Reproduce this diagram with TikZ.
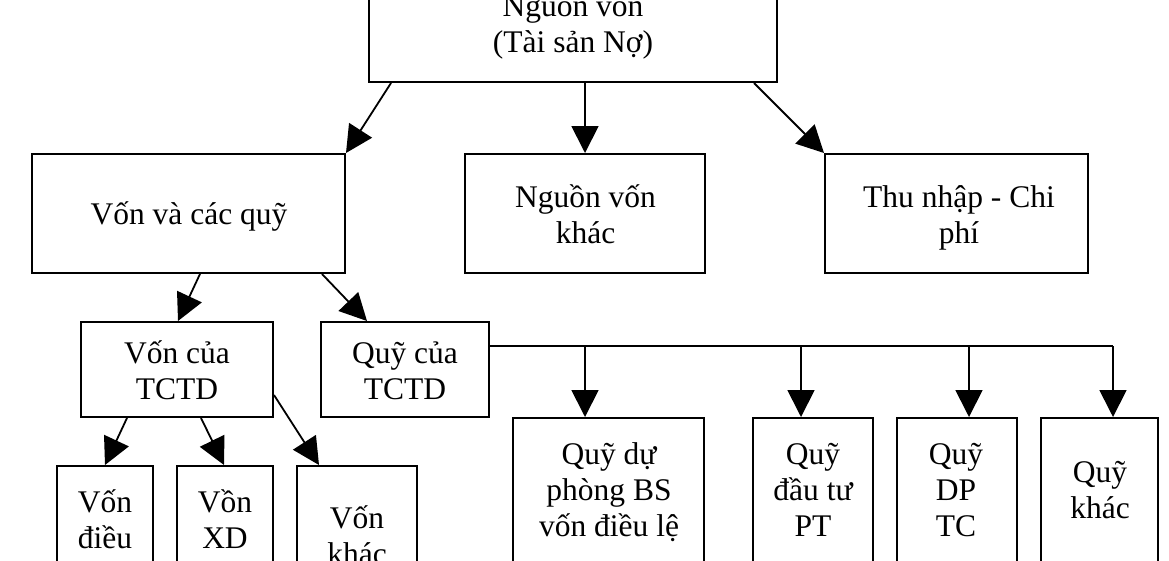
\documentclass[tikz,border=0pt]{standalone}
\usepackage{fontspec}
\setmainfont{Liberation Serif}
\usetikzlibrary{arrows.meta}
\newcommand\mlines[1]{\vtop{\baselineskip=36pt\lineskiplimit=-\maxdimen\lineskip=0pt\halign{\hfil##\hfil\cr#1\crcr}}}
\begin{document}
\begin{tikzpicture}[x=1pt,y=-1pt,
  box/.style={draw=black,line width=2pt,fill=white,inner sep=0pt,rectangle},
  txt/.style={anchor=base,inner sep=0pt,font=\fontsize{31.5}{36}\selectfont},
  arr/.style={line width=1.8pt,-{Triangle[length=27pt,width=27pt]}},
  ln/.style={line width=1.8pt}]
\useasboundingbox (0,0) rectangle (1169,560);
\clip (0,0) rectangle (1169,560);
\fill[white] (0,0) rectangle (1169,560);
% boxes: center x, center y, width, height
\node[box,minimum width=408pt,minimum height=132pt] (top) at (573,16) {};
\node[box,minimum width=313pt,minimum height=119pt] (vq) at (188.5,213.5) {};
\node[box,minimum width=240pt,minimum height=119pt] (nvk) at (585,213.5) {};
\node[box,minimum width=263pt,minimum height=119pt] (tn) at (956.5,213.5) {};
\node[box,minimum width=192pt,minimum height=95pt] (vc) at (177,369.5) {};
\node[box,minimum width=168pt,minimum height=95pt] (qc) at (405,369.5) {};
\node[box,minimum width=96pt,minimum height=154pt] (v1) at (105,543) {};
\node[box,minimum width=96pt,minimum height=154pt] (v2) at (225,543) {};
\node[box,minimum width=120pt,minimum height=154pt] (v3) at (357,543) {};
\node[box,minimum width=191pt,minimum height=182pt] (q1) at (608.5,509) {};
\node[box,minimum width=120pt,minimum height=182pt] (q2) at (813,509) {};
\node[box,minimum width=120pt,minimum height=182pt] (q3) at (957,509) {};
\node[box,minimum width=117pt,minimum height=182pt] (q4) at (1099.5,509) {};
% texts
\node[txt] (topt) at (573,16) {\mlines{Nguồn vốn\cr (Tài sản Nợ)}};
\node[txt] (vqt) at (189,224) {Vốn và các quỹ};
\node[txt] (nvkt) at (585.5,207) {\mlines{Nguồn vốn\cr khác}};
\node[txt] (tnt) at (959,207) {\mlines{Thu nhập - Chi\cr phí}};
\node[txt] (vct) at (177,363) {\mlines{Vốn của\cr TCTD}};
\node[txt] (qct) at (405,363) {\mlines{Quỹ của\cr TCTD}};
\node[txt] (v1t) at (105,512) {\mlines{Vốn\cr điều\cr lệ}};
\node[txt] (v2t) at (225,512) {\mlines{Vồn\cr XD}};
\node[txt] (v3t) at (357,528) {\mlines{Vốn\cr khác}};
\node[txt] (q1t) at (609,464) {\mlines{Quỹ dự\cr phòng BS\cr vốn điều lệ}};
\node[txt] (q2t) at (813,464) {\mlines{Quỹ\cr đầu tư\cr PT}};
\node[txt] (q3t) at (956,464) {\mlines{Quỹ\cr DP\cr TC}};
\node[txt] (q4t) at (1100,482) {\mlines{Quỹ\cr khác}};
% connectors
\draw[arr] ([xshift=23pt]top.south west) -- (vq.north east);
\draw[arr] (top.south -| nvk.north) -- (nvk.north);
\draw[arr] ([xshift=-24pt]top.south east) -- (tn.north west);
\draw[arr] ([xshift=11.5pt]vq.south) -- ([xshift=1pt]vc.north);
\draw[arr] ([xshift=-24pt]vq.south east) -- ([xshift=47pt]qc.north west);
\draw[arr] ([xshift=47pt]vc.south west) -- (v1.north);
\draw[arr] ([xshift=24pt]vc.south) -- ([xshift=-1pt]v2.north);
\draw[arr] ([yshift=-25.5pt]vc.east) -- ([xshift=23pt]v3.north west);
\coordinate (d1) at (585,346);
\coordinate (d2) at (801,346);
\coordinate (d3) at (969,346);
\coordinate (bend) at (1113,346);
\draw[ln] ([yshift=23.5pt]qc.east) -- (bend);
\draw[arr] (d1) -- ([xshift=-23.5pt]q1.north);
\draw[arr] (d2) -- ([xshift=-12pt]q2.north);
\draw[arr] (d3) -- ([xshift=12pt]q3.north);
\draw[arr] (bend) -- ([xshift=13.5pt]q4.north);
\end{tikzpicture}
\end{document}
